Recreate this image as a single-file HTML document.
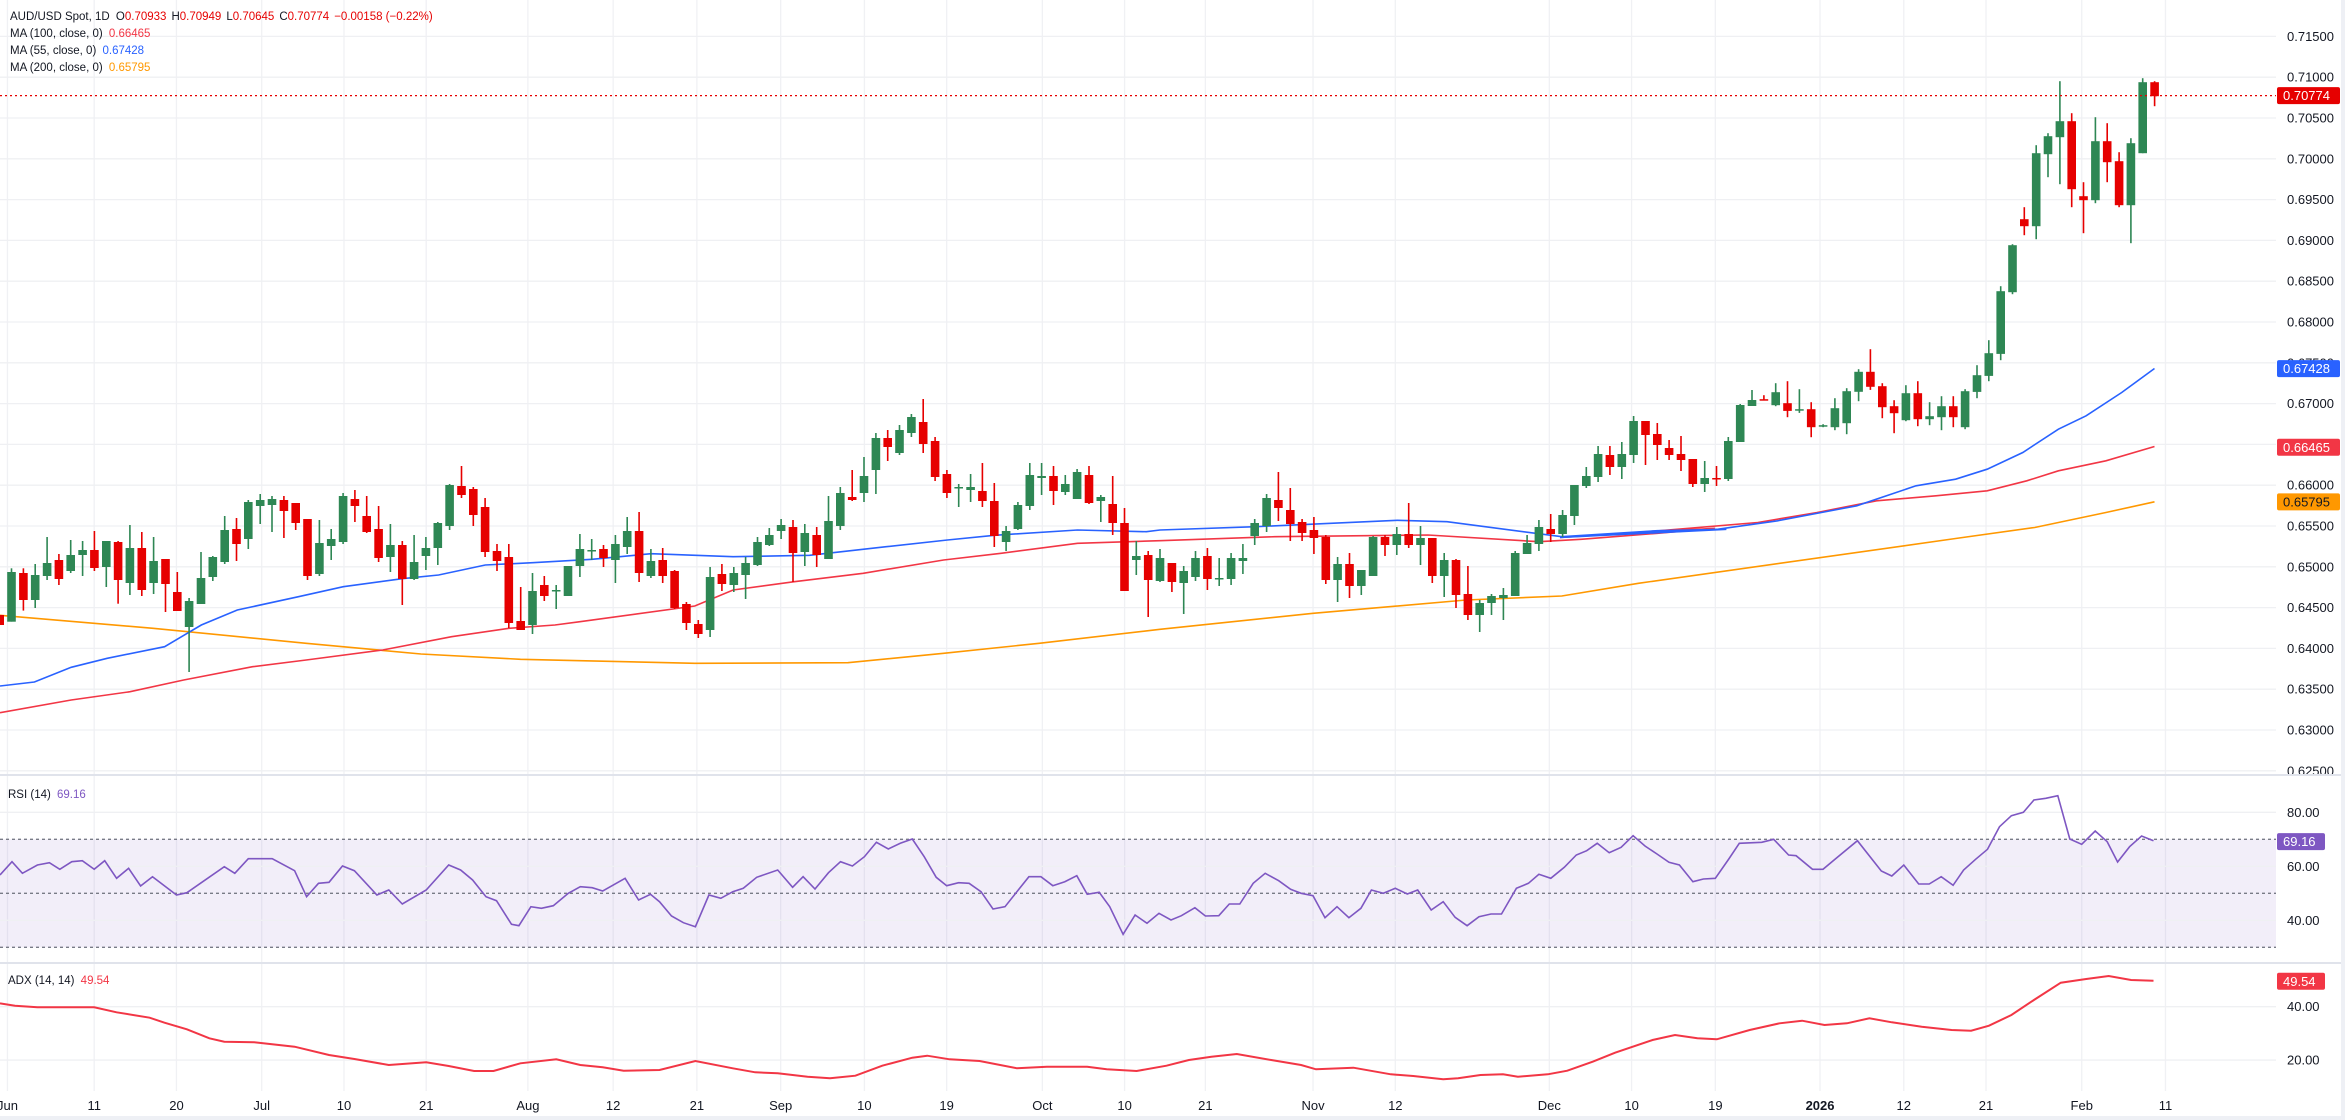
<!DOCTYPE html>
<html><head><meta charset="utf-8">
<style>
html,body{margin:0;padding:0;background:#fff;}
svg{display:block;font-family:"Liberation Sans",sans-serif;}
</style></head>
<body>
<svg id="c" width="2345" height="1120" viewBox="0 0 2345 1120" xmlns="http://www.w3.org/2000/svg"></svg>
<script>
const S=document.getElementById('c');
let h='';
const PR=2276; // plot right
// y mapping
const py=p=>36.4+(0.715-p)/0.005*40.8;
const ry=v=>812.3+(80-v)*2.7;
const ay=v=>1006.7+(40-v)*2.667;
// time labels (display coords)
const tl=[["Jun",5],["11",63],["20",118],["Jul",175],["10",230],["21",285],["Aug",353],["12",410],["21",466],["Sep",522],["10",578],["19",633],["Oct",697],["10",752],["21",806],["Nov",878],["12",933],["Dec",1036],["10",1091],["19",1147],["2026",1217],["12",1273],["21",1328],["Feb",1392],["11",1448]];
// vertical grid
tl.forEach(t=>{const x=t[1]*1.4955;h+=`<line x1="${x}" y1="0" x2="${x}" y2="1091" stroke="#f0f1f4" stroke-width="1.3"/>`;});
// horizontal grid + labels main
for(let k=0;k<=18;k++){const p=0.715-k*0.005;const y=py(p);h+=`<line x1="0" y1="${y}" x2="${PR}" y2="${y}" stroke="#eff0f3" stroke-width="1.3"/>`;
h+=`<text x="2287" y="${y+4.5}" font-size="13" fill="#131722">${p.toFixed(5)}</text>`;}
// pane separators
h+=`<rect x="0" y="774" width="2345" height="2" fill="#e0e3eb"/>`;
h+=`<rect x="0" y="962" width="2345" height="2" fill="#e0e3eb"/>`;
h+=`<rect x="0" y="1116" width="2345" height="4" fill="#eef0f5"/>`;
h+=`<rect x="2341" y="0" width="4" height="1120" fill="#eef0f5"/>`;
// RSI pane
h+=`<rect x="0" y="${ry(70)}" width="${PR}" height="${ry(30)-ry(70)}" fill="#7e57c2" fill-opacity="0.1"/>`;
[80,60,40].forEach(v=>{const y=ry(v);h+=`<line x1="0" y1="${y}" x2="${PR}" y2="${y}" stroke="#eff0f3" stroke-width="1.3"/><text x="2287" y="${y+4.5}" font-size="13" fill="#131722">${v.toFixed(2)}</text>`;});
[70,50,30].forEach(v=>{const y=ry(v);h+=`<line x1="0" y1="${y}" x2="${PR}" y2="${y}" stroke="#787b86" stroke-width="1.3" stroke-dasharray="3,3"/>`;});
[40,20].forEach(v=>{const y=ay(v);h+=`<line x1="0" y1="${y}" x2="${PR}" y2="${y}" stroke="#eff0f3" stroke-width="1.3"/><text x="2287" y="${y+4.5}" font-size="13" fill="#131722">${v.toFixed(2)}</text>`;});
// time labels
tl.forEach(t=>{const x=t[1]*1.4955;h+=`<text x="${x}" y="1110" font-size="13" fill="#131722" text-anchor="middle"${t[0]=="2026"?' font-weight="bold"':''}>${t[0]}</text>`;});
// MAs
function poly(arr,col){return `<polyline fill="none" stroke="${col}" stroke-width="1.6" points="${arr.map(p=>p[0].toFixed(1)+','+p[1].toFixed(1)).join(' ')}"/>`;}
function z46(list,x0){return list.map(q=>[x0+q[1]/2.613,380+q[0]/3]);}
function z7(list){return list.map(q=>[1560+q[1]/2.528,77.5+(q[0]-115)/3]);}
const blue=[...z46([[918,0],[906,90],[862,186],[835,280],[800,430],[735,526],[690,620],[650,780],[620,897],[596,1051],[585,1146],[555,1268],[548,1392],[538,1547]],0),
...z46([[521,186],[530,400],[526,600],[500,800],[480,960],[466,1083],[450,1300],[455,1480]],580),
...z46([[450,0],[440,250],[421,620],[425,750],[470,1050],[452,1300],[448,1480]],1160),
...z7([[1495,0],[1470,400],[1445,550],[1400,750],[1340,900],[1320,1000],[1290,1080],[1240,1170],[1170,1260],[1130,1330],[1060,1420],[988,1503]])];
const red=[...z46([[998,0],[960,186],[935,340],[900,480],[860,660],[840,800],[810,1000],[770,1180],[745,1330],[735,1450]],0),
...z46([[725,0],[678,300],[630,400],[605,560],[580,740],[540,950],[520,1100],[490,1300]],580),
...z46([[482,0],[470,300],[465,700],[485,990],[478,1100],[460,1300],[445,1450]],1160),
...z7([[1495,0],[1475,250],[1450,500],[1420,650],[1385,800],[1370,950],[1355,1080],[1325,1180],[1295,1260],[1265,1380],[1222,1503]])];
const org=[...z46([[706,0],[745,400],[790,800],[822,1100],[838,1360]],0),
...z46([[842,0],[850,300],[848,700],[820,950],[790,1200]],580),
...z46([[748,0],[700,400],[660,800],[648,1050],[610,1250]],1160),
...z7([[1498,1000],[1465,1200],[1420,1380],[1388,1503]])];
h+=poly(org,"#ff9800")+poly(red,"#f23645")+poly(blue,"#2962ff");
// candles
const A=[[0,705,735,705,735],[1,576,725,565,725],[0,579,660,565,692],[1,585,660,552,684],[1,549,588,471,600],[0,540,597,522,615],[1,525,573,480,579],[1,510,525,483,588],[0,510,564,453,573],[1,483,561,483,621],
[0,486,600,483,671],[1,504,609,435,645],[0,504,630,456,648],[1,543,609,471,642],[0,537,612,537,696],[0,636,693,576,693],[1,663,741,654,876],[1,594,672,516,672],[1,531,591,528,603],[1,450,546,408,552],
[0,447,492,414,543],[1,366,477,360,507],[1,360,378,342,432],[1,357,375,348,456],[0,360,393,348,474],[0,369,429,369,450],[0,417,588,417,600],[1,489,582,420,588],[1,477,498,447,540],[1,348,486,339,492],
[0,357,378,330,426],[0,408,456,348,459],[0,447,534,378,546],[1,495,531,432,576],[0,495,597,483,675],[1,546,597,465,600],[1,504,528,471,570],[1,429,504,426,555],[1,315,438,312,450],[0,318,345,258,354],
[0,327,405,321,438],[0,381,516,354,531],[0,513,543,492,573],[0,531,729,492,744],[0,723,750,621,750],[1,633,735,579,762],[0,615,648,588,663],[1,630,633,615,687],[1,558,648,558,648],[1,507,558,462,591],
[1,510,512,477,540],[0,507,534,495,561],[1,492,540,465,609],[1,453,501,411,522],[0,453,579,396,606],[1,543,588,507,594],[0,540,588,504,609],[0,573,684,570,687],[0,672,729,666,750],[0,732,762,720,774],
[1,591,750,561,771],[0,582,612,552,633],[1,579,615,561,636],[1,549,585,531,657],[1,486,555,471,558],[1,465,495,444,498],[1,435,453,417,477],[0,441,519,420,606],[1,459,516,432,558],[0,465,525,441,561],
[1,423,537,348,537],[1,339,438,321,450],[0,351,360,270,363],[1,288,339,231,366],[1,174,270,159,342],[0,174,201,150,243],[1,150,219,135,225],[1,111,159,102,171],[0,126,192,57,219],[0,183,291,171,303],
[0,282,339,270,354],[1,321,323,312,381],[1,321,330,282,366],[0,333,363,249,381],[0,363,468,309,501],[1,453,486,438,513],[1,375,447,366,450],[1,285,378,249,390],[1,288,294,249,345],[0,288,333,258,375],
[1,312,336,285,345],[1,276,357,267,357],[0,285,369,258,372],[1,351,363,345,426],[0,372,429,288,465],[0,429,633,384,633],[1,528,540,483,585],[0,525,600,513,711],[1,534,603,507,606],[0,549,606,549,636],
[1,573,609,558,702],[1,534,591,513,603],[0,528,597,504,630],[1,594,596,534,618],[1,534,597,519,615],[1,534,543,492,582],[1,429,468,417,495],[1,354,438,342,456],[0,360,384,276,423],[0,390,432,324,483],
[0,426,459,417,483],[0,450,474,411,522],[0,471,600,465,612],[1,552,600,531,666],[0,552,618,519,654],[1,570,618,570,645],[1,471,588,468,588],[0,471,495,465,528],[1,462,495,441,525],[0,462,495,369,504],
[1,474,495,438,555],[0,474,588,474,609],[1,540,588,519,651],[0,540,645,537,684],[0,642,705,558,720],[1,669,705,660,756],[1,648,669,642,705],[1,645,654,624,720],[1,519,648,513,648],[1,489,522,465,522],
[1,441,492,420,513],[0,447,462,402,486],[1,405,462,390,471],[1,315,408,315,435],[1,288,318,261,324],[1,222,291,198,306],[0,225,261,198,285],[1,222,261,186,297],[1,123,225,108,249],[0,123,165,123,255],
[0,162,195,129,240],[0,204,225,180,240],[0,222,240,168,273],[0,237,312,237,321],[1,294,312,243,336],[0,294,297,258,318],[1,183,297,171,303],[1,75,186,72,186],[1,60,78,30,78]];
const B=[[0,1080,1082,1068,1082],[1,1059,1098,1032,1101],[0,1092,1115,1026,1134],[1,1110,1112,1050,1121],[0,1110,1164,1089,1194],[1,1158,1161,1155,1164],[1,1107,1164,1077,1173],[1,1056,1152,1047,1185],[1,998,1058,990,1086],[0,998,1043,930,1052],
[0,1041,1104,1032,1137],[0,1101,1122,1083,1182],[1,1062,1143,1038,1146],[0,1062,1140,1026,1161],[1,1131,1140,1089,1158],[1,1101,1134,1071,1173],[0,1101,1134,1071,1164],[1,1056,1164,1050,1170],[1,1008,1058,978,1077],[1,942,1010,903,1026],
[1,756,944,741,963],[1,618,759,615,765],[0,540,561,504,588],[1,342,561,318,600],[1,291,345,282,414],[1,246,294,126,435],[0,246,450,222,504],[0,471,483,429,582],[1,306,483,234,492],[0,306,369,252,429],
[0,366,498,339,504],[1,312,498,297,612],[1,129,342,117,342],[0,129,171,126,201]];
function cand(i,d,f){const x=-0.3+11.84*i;const col=d[0]?"#2e8754":"#e60000";
let bt=f(d[1]),bb=f(d[2]),wt=f(d[3]),wb=f(d[4]);if(bb-bt<1.5)bb=bt+1.5;
return `<rect x="${(x-0.8).toFixed(1)}" y="${wt.toFixed(1)}" width="1.6" height="${(wb-wt).toFixed(1)}" fill="${col}"/><rect x="${(x-4.3).toFixed(1)}" y="${bt.toFixed(1)}" width="8.6" height="${(bb-bt).toFixed(1)}" fill="${col}"/>`;}
A.forEach((d,i)=>{h+=cand(i,d,v=>380+v/3);});
B.forEach((d,i)=>{h+=cand(149+i,d,v=>77.5+(v-115)/3);});
// last price line
const lp=py(0.70774);
h+=`<line x1="0" y1="${lp}" x2="${PR}" y2="${lp}" stroke="#e60000" stroke-width="1.3" stroke-dasharray="2,3"/>`;
// RSI line
const rsi=[[0,345],[8,305],[15,340],[25,315],[33,308],[40,328],[48,305],[55,302],[63,328],[70,302],[78,355],[86,325],[94,378],[102,350],[118,405],[125,398],[134,370],[150,320],[157,340],[166,296],[182,296],[197,332],[205,410],[213,370],[220,367],[229,318],[237,332],[252,405],[260,390],[269,432],[285,390],[300,315],[308,330],[316,360],[325,410],[332,422],[342,493],[347,497],[355,440],[362,445],[370,437],[380,400],[388,380],[396,383],[403,393],[418,355],[427,420],[435,403],[441,425],[449,468],[457,488],[465,500],[474,405],[482,415],[490,395],[497,385],[506,352],[520,330],[530,382],[537,350],[545,387],[554,338],[562,305],[570,318],[578,290],[586,247],[594,267],[602,250],[610,237],[618,290],[626,352],[633,377],[641,368],[648,370],[656,395],[664,447],[672,440],[680,395],[688,350],[696,350],[704,377],[712,365],[720,347],[727,403],[735,397],[742,440],[751,523],[759,465],[767,490],[775,460],[783,480],[790,467],[799,443],[806,468],[815,467],[822,432],[829,432],[838,370],[846,340],[855,362],[863,388],[870,400],[878,407],[886,473],[894,440],[902,473],[910,445],[917,390],[925,400],[933,385],[941,402],[948,390],[957,450],[965,425],[973,472],[981,497],[989,470],[997,462],[1004,462],[1014,385],[1022,370],[1029,343],[1037,355],[1046,322],[1054,285],[1061,272],[1068,250],[1076,278],[1084,262],[1092,227],[1100,258],[1108,282],[1116,307],[1123,315],[1132,365],[1139,357],[1147,355],[1156,297],[1163,250],[1178,247],[1186,238],[1196,285],[1201,287],[1212,328],[1219,328],[1227,298],[1242,242],[1258,333],[1265,348],[1273,315],[1283,372],[1290,372],[1298,350],[1306,376],[1313,330],[1321,298],[1329,268],[1337,200],[1345,167],[1353,157],[1360,120],[1368,115],[1376,107],[1384,237],[1392,253],[1401,213],[1409,245],[1416,306],[1424,260],[1432,228],[1440,242]];
h+=poly(rsi.map(q=>[q[0]*1.4955,760+q[1]/3]),"#7e57c2");
const adx=[[0,730],[10,737],[25,742],[63,742],[78,757],[100,773],[110,788],[125,808],[140,835],[150,845],[170,847],[197,860],[220,885],[237,897],[260,915],[285,907],[300,918],[317,933],[330,933],[348,910],[372,898],[388,915],[403,922],[417,932],[441,930],[465,903],[490,925],[505,937],[520,940],[540,950],[555,955],[572,947],[590,917],[610,893],[620,887],[635,898],[655,903],[680,925],[700,920],[727,920],[740,928],[760,933],[780,917],[795,900],[810,890],[827,882],[850,900],[870,915],[880,928],[905,923],[930,943],[945,948],[965,958],[975,955],[990,945],[1005,943],[1015,950],[1035,943],[1048,932],[1065,905],[1080,878],[1105,840],[1120,825],[1135,835],[1148,838],[1170,810],[1190,790],[1205,782],[1220,795],[1235,790],[1250,775],[1265,787],[1285,800],[1305,810],[1318,812],[1330,797],[1345,765],[1360,720],[1378,668],[1395,657],[1410,648],[1425,660],[1440,662]];
h+=poly(adx.map(q=>[q[0]*1.4955,760+q[1]/3]),"#f23645").replace('stroke-width="1.6"','stroke-width="2"');
// price tags
function tag(y,col,txt,w){return `<rect x="2277" y="${y-8.5}" width="${w}" height="17" rx="2" fill="${col}"/><text x="2283" y="${y+4.5}" font-size="13" fill="#fff">${txt}</text>`;}
h+=tag(lp,"#e60000","0.70774",63)+tag(py(0.67428),"#2962ff","0.67428",63)+tag(py(0.66465),"#f23645","0.66465",63)+tag(py(0.65795),"#ff9800","0.65795",63).replace('fill="#fff">0.65795','fill="#131722">0.65795');
h+=tag(ry(69.16),"#7e57c2","69.16",48)+tag(ay(49.54),"#f23645","49.54",48);
// legends
h+=`<text x="10" y="20" font-size="11.5" fill="#131722">AUD/USD Spot, 1D <tspan dx="3">O</tspan><tspan fill="#e60000">0.70933</tspan><tspan dx="5">H</tspan><tspan fill="#e60000">0.70949</tspan><tspan dx="5">L</tspan><tspan fill="#e60000">0.70645</tspan><tspan dx="5">C</tspan><tspan fill="#e60000">0.70774</tspan><tspan dx="5" fill="#e60000">−0.00158 (−0.22%)</tspan></text>`;
h+=`<text x="10" y="37" font-size="11.5" fill="#131722">MA (100, close, 0) <tspan dx="3" fill="#f23645">0.66465</tspan></text>`;
h+=`<text x="10" y="54" font-size="11.5" fill="#131722">MA (55, close, 0) <tspan dx="3" fill="#2962ff">0.67428</tspan></text>`;
h+=`<text x="10" y="71" font-size="11.5" fill="#131722">MA (200, close, 0) <tspan dx="3" fill="#ff9800">0.65795</tspan></text>`;
h+=`<text x="8" y="798" font-size="11.5" fill="#131722">RSI (14) <tspan dx="3" fill="#7e57c2">69.16</tspan></text>`;
h+=`<text x="8" y="984" font-size="11.5" fill="#131722">ADX (14, 14) <tspan dx="3" fill="#f23645">49.54</tspan></text>`;
S.innerHTML=h;
</script>
</body></html>
